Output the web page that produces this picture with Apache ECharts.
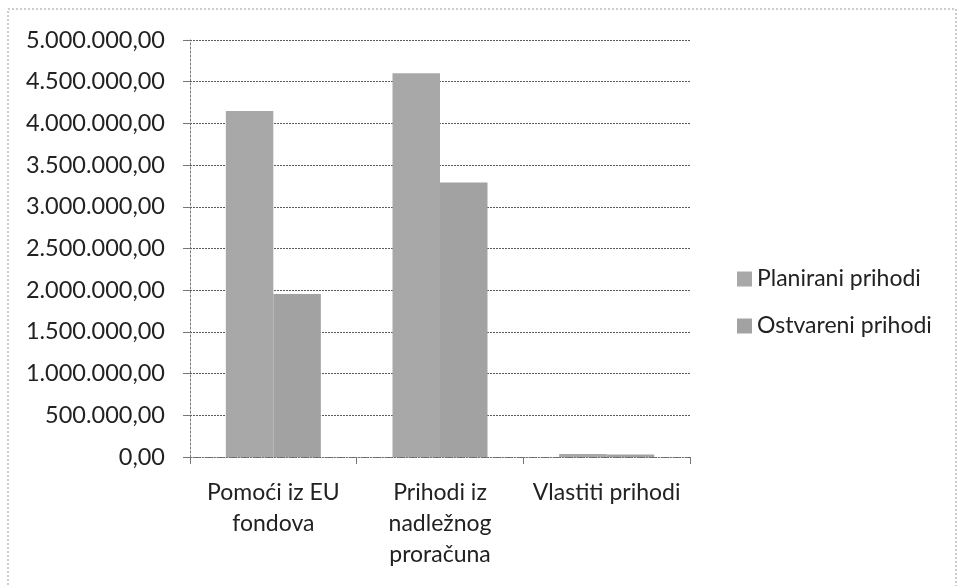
<!DOCTYPE html>
<html>
<head>
<meta charset="utf-8">
<script src="https://cdn.jsdelivr.net/npm/echarts@6/dist/echarts.min.js"></script>
<style>
  html, body { margin: 0; padding: 0; background: #fff; }
  #chart { width: 959px; height: 586px; }
</style>
</head>
<body>
<div id="chart"></div>
<script>
var categories = ['Pomoći iz EU\nfondova', 'Prihodi iz\nnadležnog\nproračuna', 'Vlastiti prihodi'];
var planirani = [4150000, 4600000, 35000];
var ostvareni = [1955000, 3290000, 30000];
var yTicks = { min: 0, max: 5000000, interval: 500000 };

function fmt(v) {
  var s = Math.round(v).toString().replace(/\B(?=(\d{3})+(?!\d))/g, '.');
  return s + ',00';
}

var chart = echarts.init(document.getElementById('chart'));
var font = 'Lato, "Noto Sans", sans-serif';
var option = {
  animation: false,
  textStyle: { fontFamily: font },
  graphic: [{
    type: 'rect',
    shape: { x: 8, y: 9, width: 948, height: 600 },
    style: { fill: 'none', stroke: '#999', lineWidth: 1, lineDash: [2, 2] }
  }],
  grid: { left: 190, right: 269, top: 40, bottom: 129 },
  legend: {
    orient: 'vertical',
    left: 732,
    top: 262,
    itemWidth: 15,
    itemHeight: 15,
    itemGap: 23,
    icon: 'rect',
    textStyle: { fontSize: 23, lineHeight: 24, color: '#222', fontFamily: font },
    data: ['Planirani prihodi', 'Ostvareni prihodi']
  },
  xAxis: {
    type: 'category',
    data: categories,
    axisLine: { lineStyle: { color: '#777', type: [2, 2] } },
    axisTick: { show: true, length: 7, lineStyle: { color: '#777' } },
    axisLabel: {
      fontSize: 23, color: '#222', lineHeight: 31, margin: 20,
      interval: 0, fontFamily: font
    }
  },
  yAxis: {
    type: 'value',
    min: yTicks.min,
    max: yTicks.max,
    interval: yTicks.interval,
    axisLine: { show: true, lineStyle: { color: '#777', type: [2, 2] } },
    axisTick: { show: true, length: 7, lineStyle: { color: '#777' } },
    splitLine: { lineStyle: { color: '#5a5a5a', type: [2, 1] } },
    axisLabel: {
      fontSize: 23.5, color: '#222', margin: 25, fontFamily: font,
      formatter: fmt
    }
  },
  series: [
    {
      name: 'Planirani prihodi',
      type: 'bar',
      data: planirani,
      barGap: '0%',
      barCategoryGap: '43%',
      itemStyle: { color: '#a8a8a8' }
    },
    {
      name: 'Ostvareni prihodi',
      type: 'bar',
      data: ostvareni,
      itemStyle: { color: '#a2a2a2' }
    }
  ]
};
chart.setOption(option);
</script>
</body>
</html>
